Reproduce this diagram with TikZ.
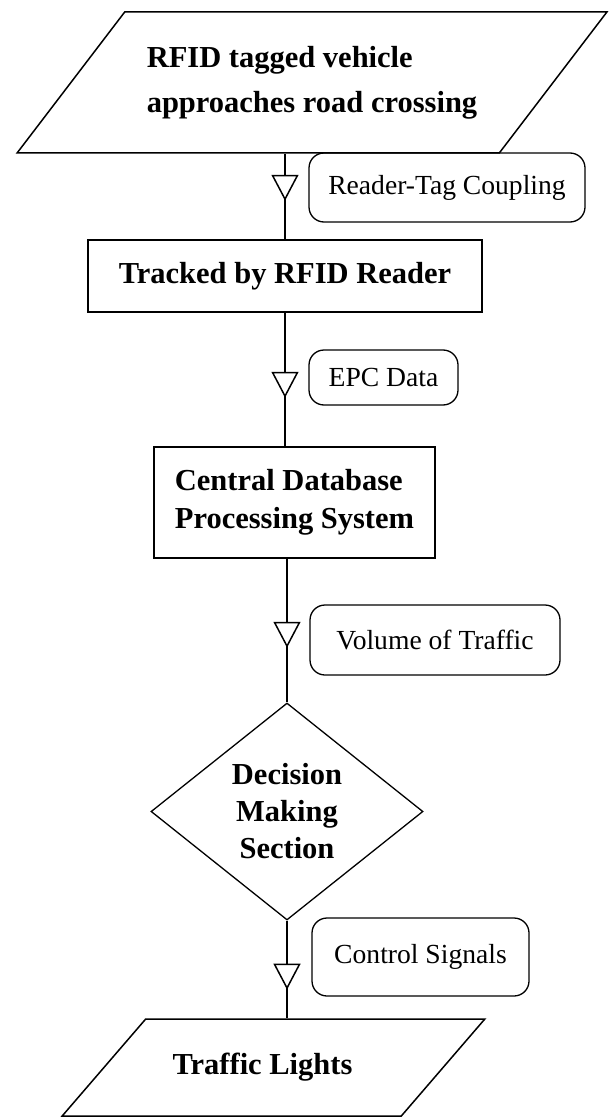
\documentclass[tikz,border=0pt]{standalone}
\usepackage{fontspec}
\setmainfont{Liberation Serif}
\usepackage{tikz}
\usetikzlibrary{shapes.geometric,arrows.meta,decorations.markings}

\newcommand{\bigbf}{\fontsize{30.5}{38}\selectfont\bfseries}
\newcommand{\lblfont}{\fontsize{27.6}{33}\selectfont}

\begin{document}
\begin{tikzpicture}[x=1pt,y=-1pt,line width=1.5pt,
  io/.style={draw,trapezium,trapezium stretches=true,align=left,font=\bigbf},
  box/.style={draw,rectangle,align=center,font=\bigbf},
  lbl/.style={draw,rounded corners=15pt,font=\lblfont,line width=1.3pt},
  flow/.style={decoration={markings,mark=at position #1 with {\arrow{Triangle[fill=white,width=27pt,length=26pt]}}},postaction=decorate}
]
  \useasboundingbox (0,0) rectangle (614,1118);

  \node[io,trapezium left angle=39.4,trapezium right angle=140.6,minimum width=592pt,minimum height=141pt,
        font=\fontsize{30.5}{45}\selectfont\bfseries] (veh) at (312,82.5) {RFID tagged vehicle\\approaches road crossing};
  \node[box,minimum width=394pt,minimum height=72pt] (rdr) at (285,276) {Tracked by RFID Reader};
  \node[box,align=left,minimum width=281pt,minimum height=111pt] (cdb) at (294.5,502.5) {Central Database\\Processing System};
  \node[draw,diamond,aspect=1.25,inner sep=0pt,minimum width=272pt,minimum height=217pt,line width=1.3pt,
        align=center,font=\fontsize{30.5}{37}\selectfont\bfseries] (dec) at (287,811.5) {Decision\\Making\\Section};
  \node[io,trapezium left angle=27.1,trapezium right angle=152.9,minimum width=425pt,minimum height=97pt] (tl) at (273.5,1067.5) {Traffic Lights\hspace{22pt}};

  \node[lbl,minimum width=276pt,minimum height=69pt] (rtc) at (447,187.5) {Reader-Tag Coupling};
  \node[lbl,minimum width=149pt,minimum height=55pt] (epc) at (383.5,377.5) {EPC Data};
  \node[lbl,minimum width=250pt,minimum height=70pt] (vol) at (435,640) {Volume of Traffic};
  \node[lbl,minimum width=217pt,minimum height=78pt] (ctl) at (420.5,957) {Control Signals};

  \draw[flow=47pt] (veh.south -| rdr.north) -- (rdr.north);
  \draw[flow=85pt] (rdr.south) -- (rdr.south |- cdb.north);
  \draw[flow=89pt] (dec.north |- cdb.south) -- (dec.north);
  \draw[flow=69pt] (dec.south) -- (dec.south |- tl.north);
\end{tikzpicture}
\end{document}
